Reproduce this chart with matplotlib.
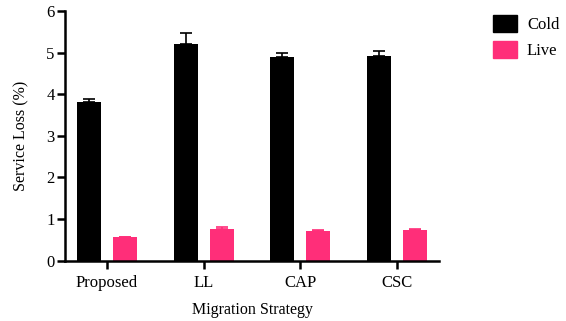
import matplotlib
matplotlib.use("Agg")
import matplotlib.pyplot as plt
import numpy as np
from matplotlib.patches import Patch

categories = ["Proposed", "LL", "CAP", "CSC"]
cold = [3.82, 5.21, 4.89, 4.93]
cold_err = [0.07, 0.27, 0.11, 0.12]
live = [0.57, 0.77, 0.72, 0.74]
live_err = [0.01, 0.05, 0.02, 0.02]

plt.rcParams['font.family'] = ['Liberation Serif']
fig = plt.figure(figsize=(5.66, 3.21), dpi=100)
ax = fig.add_axes([0.1148, 0.188, 0.776 - 0.1148, 0.9657 - 0.188])

x = np.arange(len(categories))
w = 0.248
off = 0.186
pink = '#FF2E79'
ax.bar(x - off, cold, w, color='black', yerr=[np.zeros(4), cold_err],
       error_kw=dict(ecolor='black', elinewidth=1.2, capsize=4, capthick=1.2))
ax.bar(x + off, live, w, color=pink, yerr=[np.zeros(4), live_err],
       error_kw=dict(ecolor=pink, elinewidth=1.2, capsize=4, capthick=1.2))

ax.set_xlim(-0.435, 3.435)
ax.set_ylim(0, 6)
ax.set_yticks(range(7))
ax.set_xticks(x)
ax.set_xticklabels(categories)
ax.tick_params(axis='both', labelsize=12, width=1.8, colors='black')
ax.tick_params(axis='x', length=6, pad=4)
ax.tick_params(axis='y', length=6, pad=1.5)
for s in ['top', 'right']:
    ax.spines[s].set_visible(False)
for s in ['left', 'bottom']:
    ax.spines[s].set_linewidth(1.8)
ax.set_ylabel('Service Loss (%)', fontsize=11.5, labelpad=12)
ax.set_xlabel('Migration Strategy', fontsize=11.5, labelpad=8)

handles = [Patch(facecolor='black', edgecolor='black'), Patch(facecolor=pink, edgecolor=pink)]
fig.legend(handles, ['Cold', 'Live'], loc='upper left', bbox_to_anchor=(493 / 566, 1 - 15 / 321),
           frameon=False, fontsize=12, handlelength=1.44, handleheight=1.2,
           handletextpad=0.6, labelspacing=0.45, borderpad=0, borderaxespad=0)

fig.savefig('out.png', dpi=100)
